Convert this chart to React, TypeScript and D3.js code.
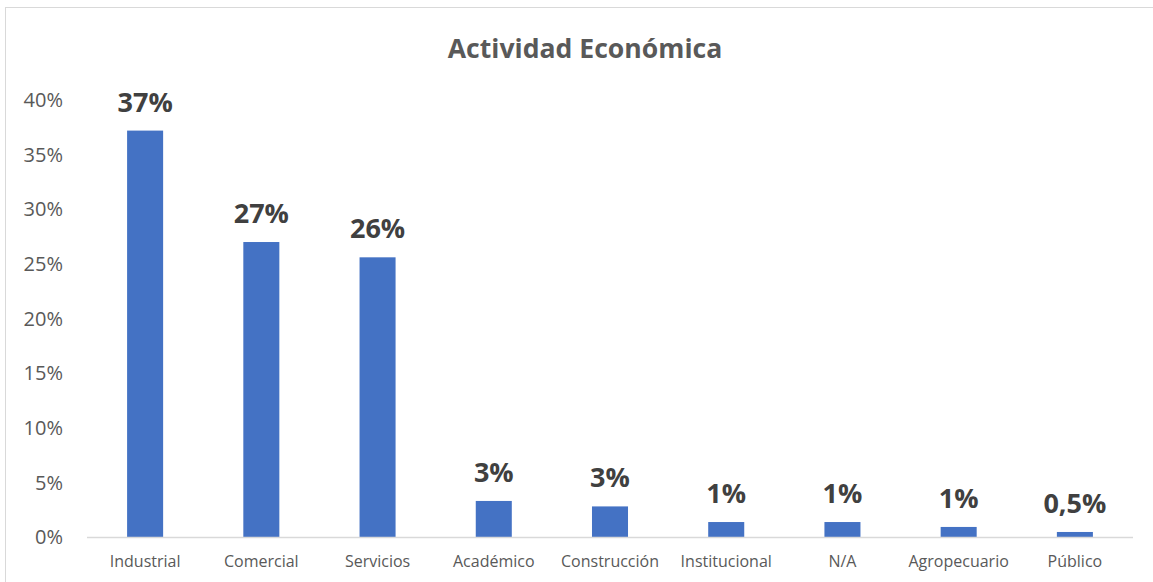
import React from "react";
import * as d3 from "d3";

const categories = ["Industrial", "Comercial", "Servicios", "Académico", "Construcción", "Institucional", "N/A", "Agropecuario", "Público"];
const values = [0.372, 0.27, 0.256, 0.033, 0.028, 0.0137, 0.0137, 0.0092, 0.0046];
const dataLabels = ["37%", "27%", "26%", "3%", "3%", "1%", "1%", "1%", "0,5%"];
const yTicks = [0, 0.05, 0.1, 0.15, 0.2, 0.25, 0.3, 0.35, 0.4];
const title = "Actividad Económica";

const W = 1153, H = 582;
const plot = { left: 87, right: 1133, top: 100, bottom: 537 };
const FONT = "'Open Sans', sans-serif";

export default function App() {
  const x = d3.scaleBand<string>().domain(categories).range([plot.left, plot.right]).paddingInner(0.69).paddingOuter(0.345);
  const y = d3.scaleLinear().domain([0, 0.4]).range([plot.bottom, plot.top]);
  const fmt = (v: number) => `${Math.round(v * 100)}%`;
  return (
    <svg width={W} height={H} style={{ position: "absolute", left: 0, top: 0, background: "#fff" }} fontFamily={FONT}>
      <rect x={5.5} y={7.5} width={1150} height={580} fill="#fff" stroke="#d9d9d9" strokeWidth={1} />
      <text x={585} y={58} textAnchor="middle" fontSize={26.6} fontWeight={700} fill="#595959">{title}</text>
      {yTicks.map((t) => (
        <text key={t} x={63} y={y(t)} dy="0.36em" textAnchor="end" fontSize={20} fill="#595959">{fmt(t)}</text>
      ))}
      {categories.map((c, i) => (
        <g key={c}>
          <rect x={x(c)} y={y(values[i])} width={x.bandwidth()} height={plot.bottom - y(values[i])} fill="#4472C4" />
          <text x={(x(c) ?? 0) + x.bandwidth() / 2} y={y(values[i]) - 19} textAnchor="middle" fontSize={27} fontWeight={700} fill="#404040">{dataLabels[i]}</text>
          <text x={(x(c) ?? 0) + x.bandwidth() / 2} y={567} textAnchor="middle" fontSize={16} fill="#595959">{c}</text>
        </g>
      ))}
      <line x1={plot.left} x2={plot.right} y1={plot.bottom + 0.5} y2={plot.bottom + 0.5} stroke="#d9d9d9" strokeWidth={1.5} />
    </svg>
  );
}
